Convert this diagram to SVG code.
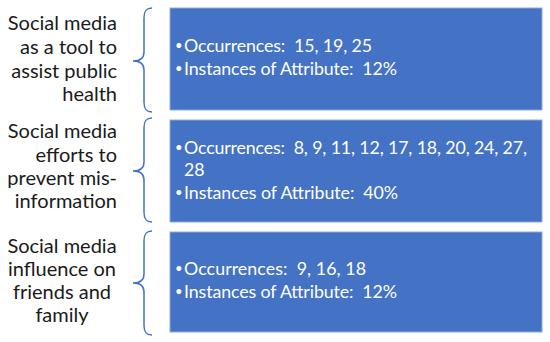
<svg xmlns="http://www.w3.org/2000/svg" width="550" height="342" viewBox="0 0 550 342">
<style>
.lbl{font-family:Lato,"Open Sans","Liberation Sans",sans-serif;font-size:20px;fill:#1a1a1a;}
.r{text-anchor:end;}
.c{text-anchor:middle;}
.box{fill:#4472C4;stroke:#8eaadc;stroke-width:1;}
.bt{font-family:Lato,"Open Sans","Liberation Sans",sans-serif;font-size:17.8px;fill:#fff;white-space:pre;}
.bu{font-family:Lato,"Open Sans","Liberation Sans",sans-serif;font-size:13px;fill:#fff;}
.brace{fill:none;stroke:#4472C4;stroke-width:1.5;}
</style>
<rect width="550" height="342" fill="#fff"/>
<g id="connectors">
<path class="brace" d="M152,8 C146,8 144,11 144,18 L144,52 C144,58 140,61 133,61 C140,61 144,64 144,70 L144,102 C144,109 146,112 152,112"/>
<path class="brace" d="M152,118 C146,118 144,121 144,128 L144,162 C144,168 140,171 133,171 C140,171 144,174 144,180 L144,212 C144,219 146,222 152,222"/>
<path class="brace" d="M152,231 C146,231 144,234 144,241 L144,274 C144,280 140,283 133,283 C140,283 144,286 144,292 L144,325 C144,332 146,335 152,335"/>
</g>
<g id="label1">
<text class="lbl r" x="117" y="30">Social media</text>
<text class="lbl r" x="117" y="54">as a tool to</text>
<text class="lbl r" x="117" y="78">assist public</text>
<text class="lbl r" x="117" y="101">health</text>
</g>
<g id="box1">
<rect class="box" x="170" y="8" width="372" height="102"/>
<text class="bu" x="175" y="50">•</text><text class="bt" x="184" y="52" textLength="188" lengthAdjust="spacing">Occurrences:  15, 19, 25</text>
<text class="bu" x="175" y="73">•</text><text class="bt" x="184" y="75" textLength="213" lengthAdjust="spacing">Instances of Attribute:  12%</text>
</g>
<g id="label2">
<text class="lbl r" x="117" y="138">Social media</text>
<text class="lbl r" x="117" y="162">efforts to</text>
<text class="lbl r" x="117" y="185">prevent mis-</text>
<text class="lbl r" x="117" y="208">information</text>
</g>
<g id="box2">
<rect class="box" x="170" y="120" width="372" height="102"/>
<text class="bu" x="175" y="152">•</text><text class="bt" x="184" y="154" textLength="343" lengthAdjust="spacing">Occurrences:  8, 9, 11, 12, 17, 18, 20, 24, 27,</text>
<text class="bt" x="184" y="176">28</text>
<text class="bu" x="175" y="197">•</text><text class="bt" x="184" y="199" textLength="214" lengthAdjust="spacing">Instances of Attribute:  40%</text>
</g>
<g id="label3">
<text class="lbl c" x="62" y="253">Social media</text>
<text class="lbl c" x="62" y="276">influence on</text>
<text class="lbl c" x="62" y="299">friends and</text>
<text class="lbl c" x="62" y="322">family</text>
</g>
<g id="box3">
<rect class="box" x="170" y="232" width="372" height="100"/>
<text class="bu" x="175" y="273">•</text><text class="bt" x="184" y="275" textLength="182" lengthAdjust="spacing">Occurrences:  9, 16, 18</text>
<text class="bu" x="175" y="296">•</text><text class="bt" x="184" y="298" textLength="213" lengthAdjust="spacing">Instances of Attribute:  12%</text>
</g>
</svg>
